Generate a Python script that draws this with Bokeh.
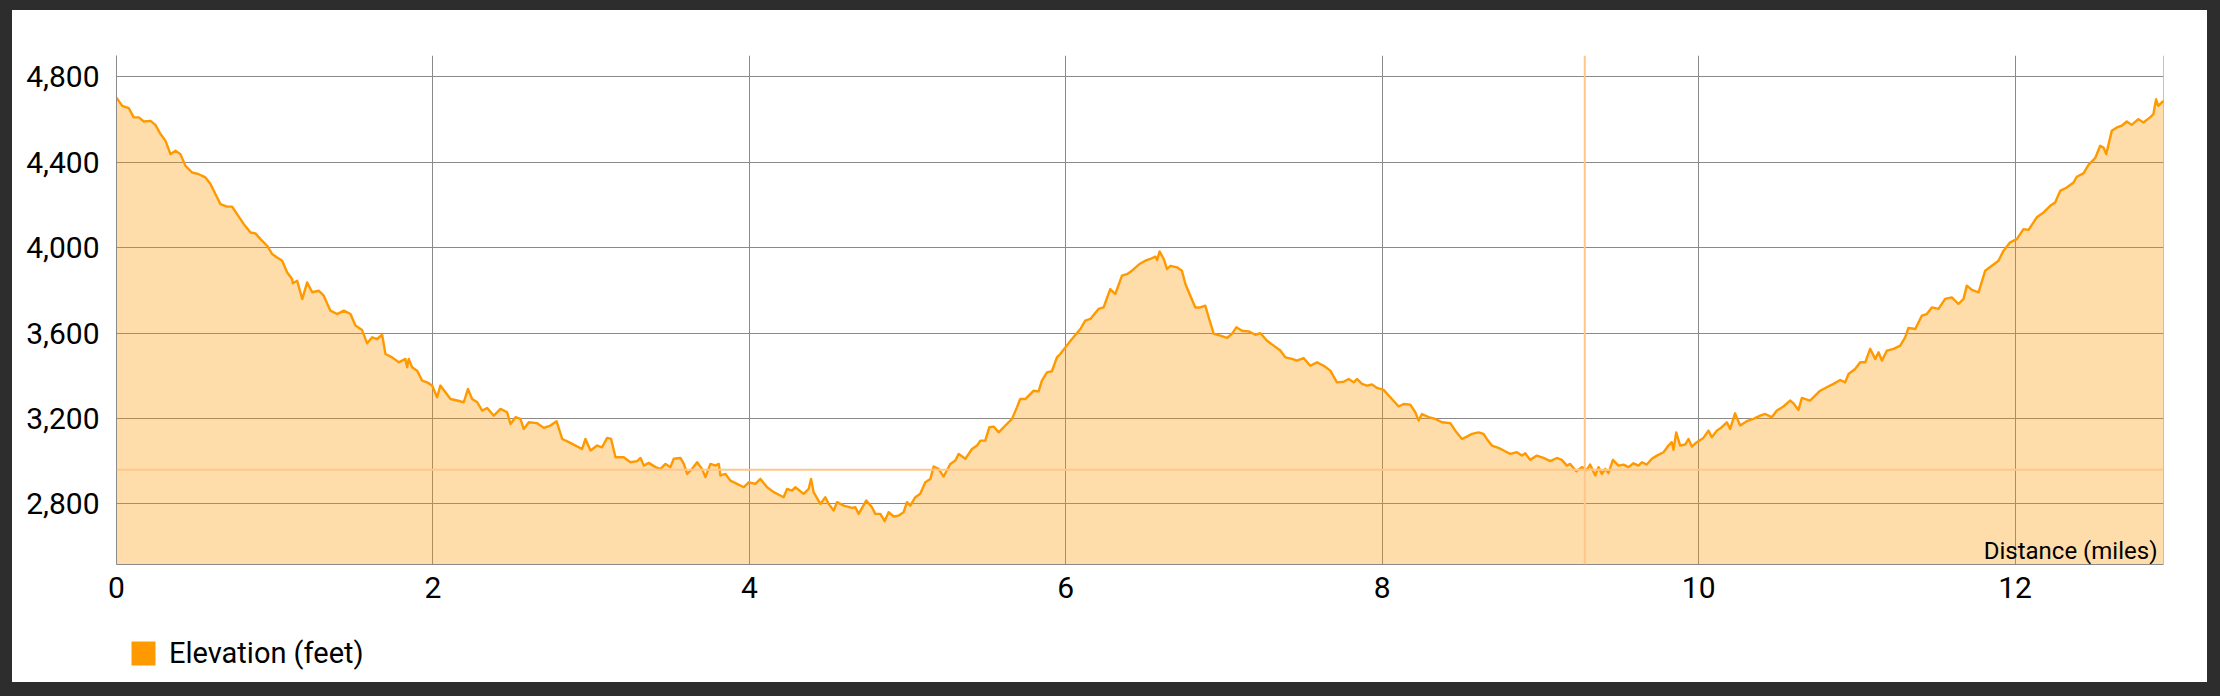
from bokeh.plotting import figure
from bokeh.layouts import column
from bokeh.models import (Range1d, FixedTicker, NumeralTickFormatter, Span, Label,
                          Legend, LegendItem)
from bokeh.embed import file_html
from bokeh.resources import INLINE

# ---- data ----
dist = [
    0.000, 0.036, 0.078, 0.109, 0.141, 0.173, 0.215, 0.246, 0.278, 0.310, 0.341, 0.373, 0.404,
    0.436, 0.478, 0.520, 0.562, 0.594, 0.625, 0.657, 0.699, 0.731, 0.762, 0.805, 0.847, 0.878,
    0.910, 0.952, 0.984, 1.015, 1.047, 1.079, 1.110, 1.114, 1.142, 1.174, 1.205, 1.237, 1.279,
    1.310, 1.352, 1.394, 1.437, 1.479, 1.510, 1.552, 1.584, 1.616, 1.647, 1.679, 1.700, 1.742,
    1.784, 1.826, 1.837, 1.847, 1.868, 1.900, 1.932, 1.963, 1.995, 2.026, 2.047, 2.079, 2.111,
    2.153, 2.195, 2.221, 2.248, 2.280, 2.311, 2.343, 2.385, 2.427, 2.469, 2.490, 2.522, 2.553,
    2.574, 2.606, 2.659, 2.701, 2.743, 2.781, 2.817, 2.859, 2.901, 2.943, 2.964, 2.996, 3.038,
    3.069, 3.101, 3.126, 3.154, 3.206, 3.248, 3.291, 3.312, 3.333, 3.364, 3.407, 3.438, 3.470,
    3.501, 3.522, 3.564, 3.586, 3.607, 3.638, 3.670, 3.701, 3.722, 3.754, 3.786, 3.807, 3.817,
    3.849, 3.880, 3.922, 3.965, 3.996, 4.038, 4.070, 4.112, 4.154, 4.196, 4.217, 4.238, 4.270,
    4.291, 4.343, 4.375, 4.390, 4.406, 4.449, 4.480, 4.501, 4.533, 4.554, 4.596, 4.649, 4.670,
    4.691, 4.739, 4.775, 4.796, 4.828, 4.855, 4.880, 4.912, 4.944, 4.975, 4.996, 5.017, 5.049,
    5.080, 5.112, 5.144, 5.165, 5.196, 5.228, 5.270, 5.302, 5.323, 5.365, 5.407, 5.439, 5.460,
    5.491, 5.517, 5.544, 5.576, 5.618, 5.660, 5.691, 5.712, 5.744, 5.797, 5.828, 5.849, 5.881,
    5.912, 5.944, 5.965, 5.997, 6.039, 6.092, 6.123, 6.155, 6.207, 6.239, 6.281, 6.313, 6.355,
    6.386, 6.418, 6.471, 6.503, 6.534, 6.566, 6.577, 6.593, 6.619, 6.640, 6.661, 6.703, 6.734,
    6.756, 6.787, 6.819, 6.850, 6.882, 6.903, 6.935, 6.977, 7.019, 7.050, 7.078, 7.114, 7.156,
    7.198, 7.230, 7.272, 7.314, 7.356, 7.388, 7.430, 7.461, 7.503, 7.545, 7.588, 7.630, 7.672,
    7.714, 7.756, 7.788, 7.820, 7.840, 7.872, 7.903, 7.935, 7.967, 8.009, 8.051, 8.104, 8.135,
    8.177, 8.209, 8.230, 8.251, 8.293, 8.335, 8.377, 8.430, 8.462, 8.504, 8.535, 8.567, 8.609,
    8.640, 8.661, 8.693, 8.735, 8.767, 8.809, 8.851, 8.883, 8.904, 8.935, 8.977, 9.019, 9.062,
    9.104, 9.135, 9.167, 9.188, 9.226, 9.262, 9.293, 9.314, 9.346, 9.367, 9.388, 9.409, 9.430,
    9.458, 9.493, 9.525, 9.557, 9.588, 9.620, 9.641, 9.672, 9.704, 9.736, 9.778, 9.809, 9.830,
    9.841, 9.858, 9.883, 9.915, 9.936, 9.957, 9.988, 10.030, 10.062, 10.083, 10.115, 10.146,
    10.178, 10.199, 10.230, 10.262, 10.304, 10.346, 10.389, 10.420, 10.462, 10.494, 10.536,
    10.578, 10.599, 10.631, 10.652, 10.704, 10.736, 10.768, 10.810, 10.852, 10.895, 10.926,
    10.947, 10.989, 11.021, 11.053, 11.084, 11.116, 11.137, 11.158, 11.190, 11.232, 11.274,
    11.305, 11.326, 11.369, 11.411, 11.442, 11.474, 11.516, 11.558, 11.600, 11.642, 11.674,
    11.695, 11.727, 11.769, 11.811, 11.853, 11.895, 11.927, 11.969, 12.011, 12.053, 12.085,
    12.137, 12.180, 12.222, 12.253, 12.285, 12.327, 12.369, 12.390, 12.432, 12.464, 12.506,
    12.538, 12.559, 12.576, 12.611, 12.643, 12.674, 12.706, 12.737, 12.779, 12.811, 12.853,
    12.874, 12.891, 12.905, 12.938,
]
elev = [
    4703, 4664, 4653, 4610, 4610, 4591, 4594, 4575, 4532, 4500, 4438, 4454, 4438,
    4383, 4352, 4344, 4329, 4298, 4251, 4204, 4192, 4192, 4157, 4110, 4071, 4067,
    4040, 4009, 3970, 3954, 3939, 3884, 3853, 3833, 3845, 3759, 3837, 3791, 3798,
    3775, 3705, 3689, 3705, 3689, 3635, 3614, 3552, 3580, 3572, 3592, 3502, 3486,
    3463, 3479, 3440, 3479, 3440, 3424, 3377, 3369, 3354, 3299, 3354, 3323, 3291,
    3284, 3276, 3338, 3291, 3276, 3237, 3249, 3213, 3245, 3229, 3174, 3206, 3198,
    3151, 3182, 3178, 3156, 3167, 3187, 3104, 3089, 3073, 3057, 3104, 3050, 3073,
    3065, 3109, 3104, 3018, 3018, 2995, 3000, 3015, 2979, 2992, 2972, 2964, 2987,
    2972, 3011, 3015, 2987, 2940, 2964, 2995, 2964, 2925, 2987, 2979, 2987, 2933,
    2940, 2909, 2894, 2878, 2901, 2894, 2917, 2878, 2855, 2839, 2831, 2870, 2862,
    2878, 2847, 2870, 2917, 2855, 2800, 2831, 2800, 2769, 2808, 2792, 2781, 2784,
    2753, 2816, 2784, 2753, 2753, 2719, 2761, 2741, 2745, 2761, 2808, 2792, 2831,
    2847, 2901, 2917, 2975, 2964, 2928, 2987, 3003, 3034, 3011, 3057, 3073, 3096,
    3096, 3159, 3162, 3135, 3167, 3198, 3252, 3291, 3291, 3330, 3327, 3377, 3416,
    3421, 3486, 3502, 3533, 3572, 3619, 3658, 3666, 3713, 3720, 3806, 3783, 3869,
    3876, 3892, 3926, 3939, 3947, 3958, 3942, 3982, 3947, 3900, 3915, 3908, 3892,
    3830, 3775, 3720, 3720, 3728, 3674, 3596, 3588, 3577, 3596, 3627, 3611, 3608,
    3592, 3599, 3564, 3541, 3518, 3486, 3479, 3471, 3483, 3447, 3463, 3447, 3424,
    3369, 3372, 3385, 3369, 3385, 3362, 3354, 3359, 3343, 3334, 3299, 3256, 3268,
    3265, 3229, 3190, 3221, 3206, 3198, 3182, 3178, 3143, 3104, 3115, 3128, 3135,
    3128, 3104, 3073, 3062, 3050, 3034, 3042, 3026, 3037, 3006, 3026, 3015, 3000,
    3015, 3006, 2979, 2987, 2953, 2972, 2959, 2984, 2933, 2972, 2940, 2964, 2944,
    3006, 2979, 2984, 2972, 2990, 2979, 2995, 2984, 3011, 3026, 3042, 3073, 3089,
    3053, 3135, 3073, 3078, 3104, 3068, 3089, 3109, 3143, 3112, 3143, 3159,
    3182, 3151, 3224, 3167, 3187, 3198, 3213, 3221, 3206, 3237, 3256,
    3284, 3271, 3240, 3296, 3284, 3307, 3330, 3346, 3362, 3380, 3369,
    3408, 3432, 3463, 3463, 3526, 3479, 3510, 3471, 3518, 3526, 3541,
    3580, 3624, 3619, 3682, 3689, 3720, 3713, 3760, 3767, 3736, 3760,
    3822, 3802, 3791, 3892, 3915, 3939, 3986, 4025, 4040, 4087, 4083,
    4142, 4165, 4196, 4212, 4266, 4282, 4305, 4332, 4348, 4388, 4419,
    4477, 4469, 4438, 4547, 4563, 4571, 4591, 4575, 4602, 4586, 4610,
    4625, 4695, 4664, 4688,
]
x_ticks = [0, 2, 4, 6, 8, 10, 12]
y_ticks = [2800, 3200, 3600, 4000, 4400, 4800]
x_min, x_max = 0.0, 12.938
y_min, y_max = 2516, 4900
cross_x = 9.28      # hover crosshair position (miles)
cross_y = 2960      # hover crosshair position (feet)
series_name = "Elevation (feet)"
x_title = "Distance (miles)"

ORANGE = "#ff9900"
GRID = "#8a8a8a"
FONT = "Roboto"

p = figure(width=2195, height=610, output_backend="svg", toolbar_location=None,
           x_range=Range1d(x_min, x_max), y_range=Range1d(y_min, y_max),
           min_border_left=104, min_border_right=44, min_border_top=45,
           min_border_bottom=56)
p.outline_line_color = None
p.background_fill_color = "white"
p.border_fill_color = "white"

# grid
p.xgrid.ticker = FixedTicker(ticks=x_ticks)
p.ygrid.ticker = FixedTicker(ticks=y_ticks)
for g in (p.xgrid, p.ygrid):
    g.grid_line_color = GRID
    g.grid_line_width = 1

# axes
p.xaxis.ticker = FixedTicker(ticks=x_ticks)
p.yaxis.ticker = FixedTicker(ticks=y_ticks)
p.yaxis.formatter = NumeralTickFormatter(format="0,0")
for ax in (p.xaxis, p.yaxis):
    ax.axis_line_color = GRID
    ax.major_tick_line_color = None
    ax.minor_tick_line_color = None
    ax.major_tick_out = 0
    ax.major_tick_in = 0
    ax.major_label_text_font = FONT
    ax.major_label_text_font_size = "30px"
    ax.major_label_text_color = "#000000"
p.xaxis.major_label_standoff = 12
p.yaxis.major_label_standoff = 17

# area + line
p.varea(x=dist, y1=y_min, y2=elev, fill_color=ORANGE, fill_alpha=0.33)
p.line(dist, elev, line_color=ORANGE, line_width=2.4, line_join="round")

# right border line
p.add_layout(Span(location=x_max, dimension="height", line_color=GRID, line_width=1))

# crosshair
p.add_layout(Span(location=cross_x, dimension="height", line_color="#ffc68c", line_width=2))
p.add_layout(Span(location=cross_y, dimension="width", line_color="#ffc68c", line_width=2))

# axis title inside the plot
p.add_layout(Label(x=x_max, y=y_min, x_offset=-6, y_offset=0, text=x_title,
                   text_align="right", text_baseline="bottom", text_font=FONT,
                   text_font_size="24px", text_color="#000000"))

# legend strip below the chart (its frame is aligned with the chart frame)
pl = figure(width=2195, height=62, output_backend="svg", toolbar_location=None,
            x_range=Range1d(x_min, x_max), y_range=Range1d(y_min, y_max),
            x_axis_location=None, y_axis_location=None, min_border=0)
pl.outline_line_color = None
pl.xgrid.visible = False
pl.ygrid.visible = False
pl.background_fill_color = "white"
pl.border_fill_color = "white"
# zero-size swatch renderer (draws nothing itself, supplies the legend colour)
r_leg = pl.quad(left=dist[:1], right=dist[:1], top=elev[:1], bottom=elev[:1],
                fill_color=ORANGE, line_color=None)
legend = Legend(items=[LegendItem(label=series_name, renderers=[r_leg], index=0)],
                location=(12, 12), orientation="horizontal",
                glyph_width=30, glyph_height=30, label_standoff=11,
                padding=0, margin=0, border_line_color=None,
                background_fill_alpha=0, label_text_font=FONT,
                label_text_font_size="29px", label_text_color="#000000")
pl.add_layout(legend)

layout = column(p, pl, spacing=0, margin=(10, 0, 0, 12),
                styles={"background-color": "white"})

html = file_html(layout, INLINE, title="Elevation profile")
html = html.replace("</head>",
                    "<style>html,body{margin:0;padding:0;background:#2d2d2d;}</style></head>", 1)
open("out.html", "w").write(html)
